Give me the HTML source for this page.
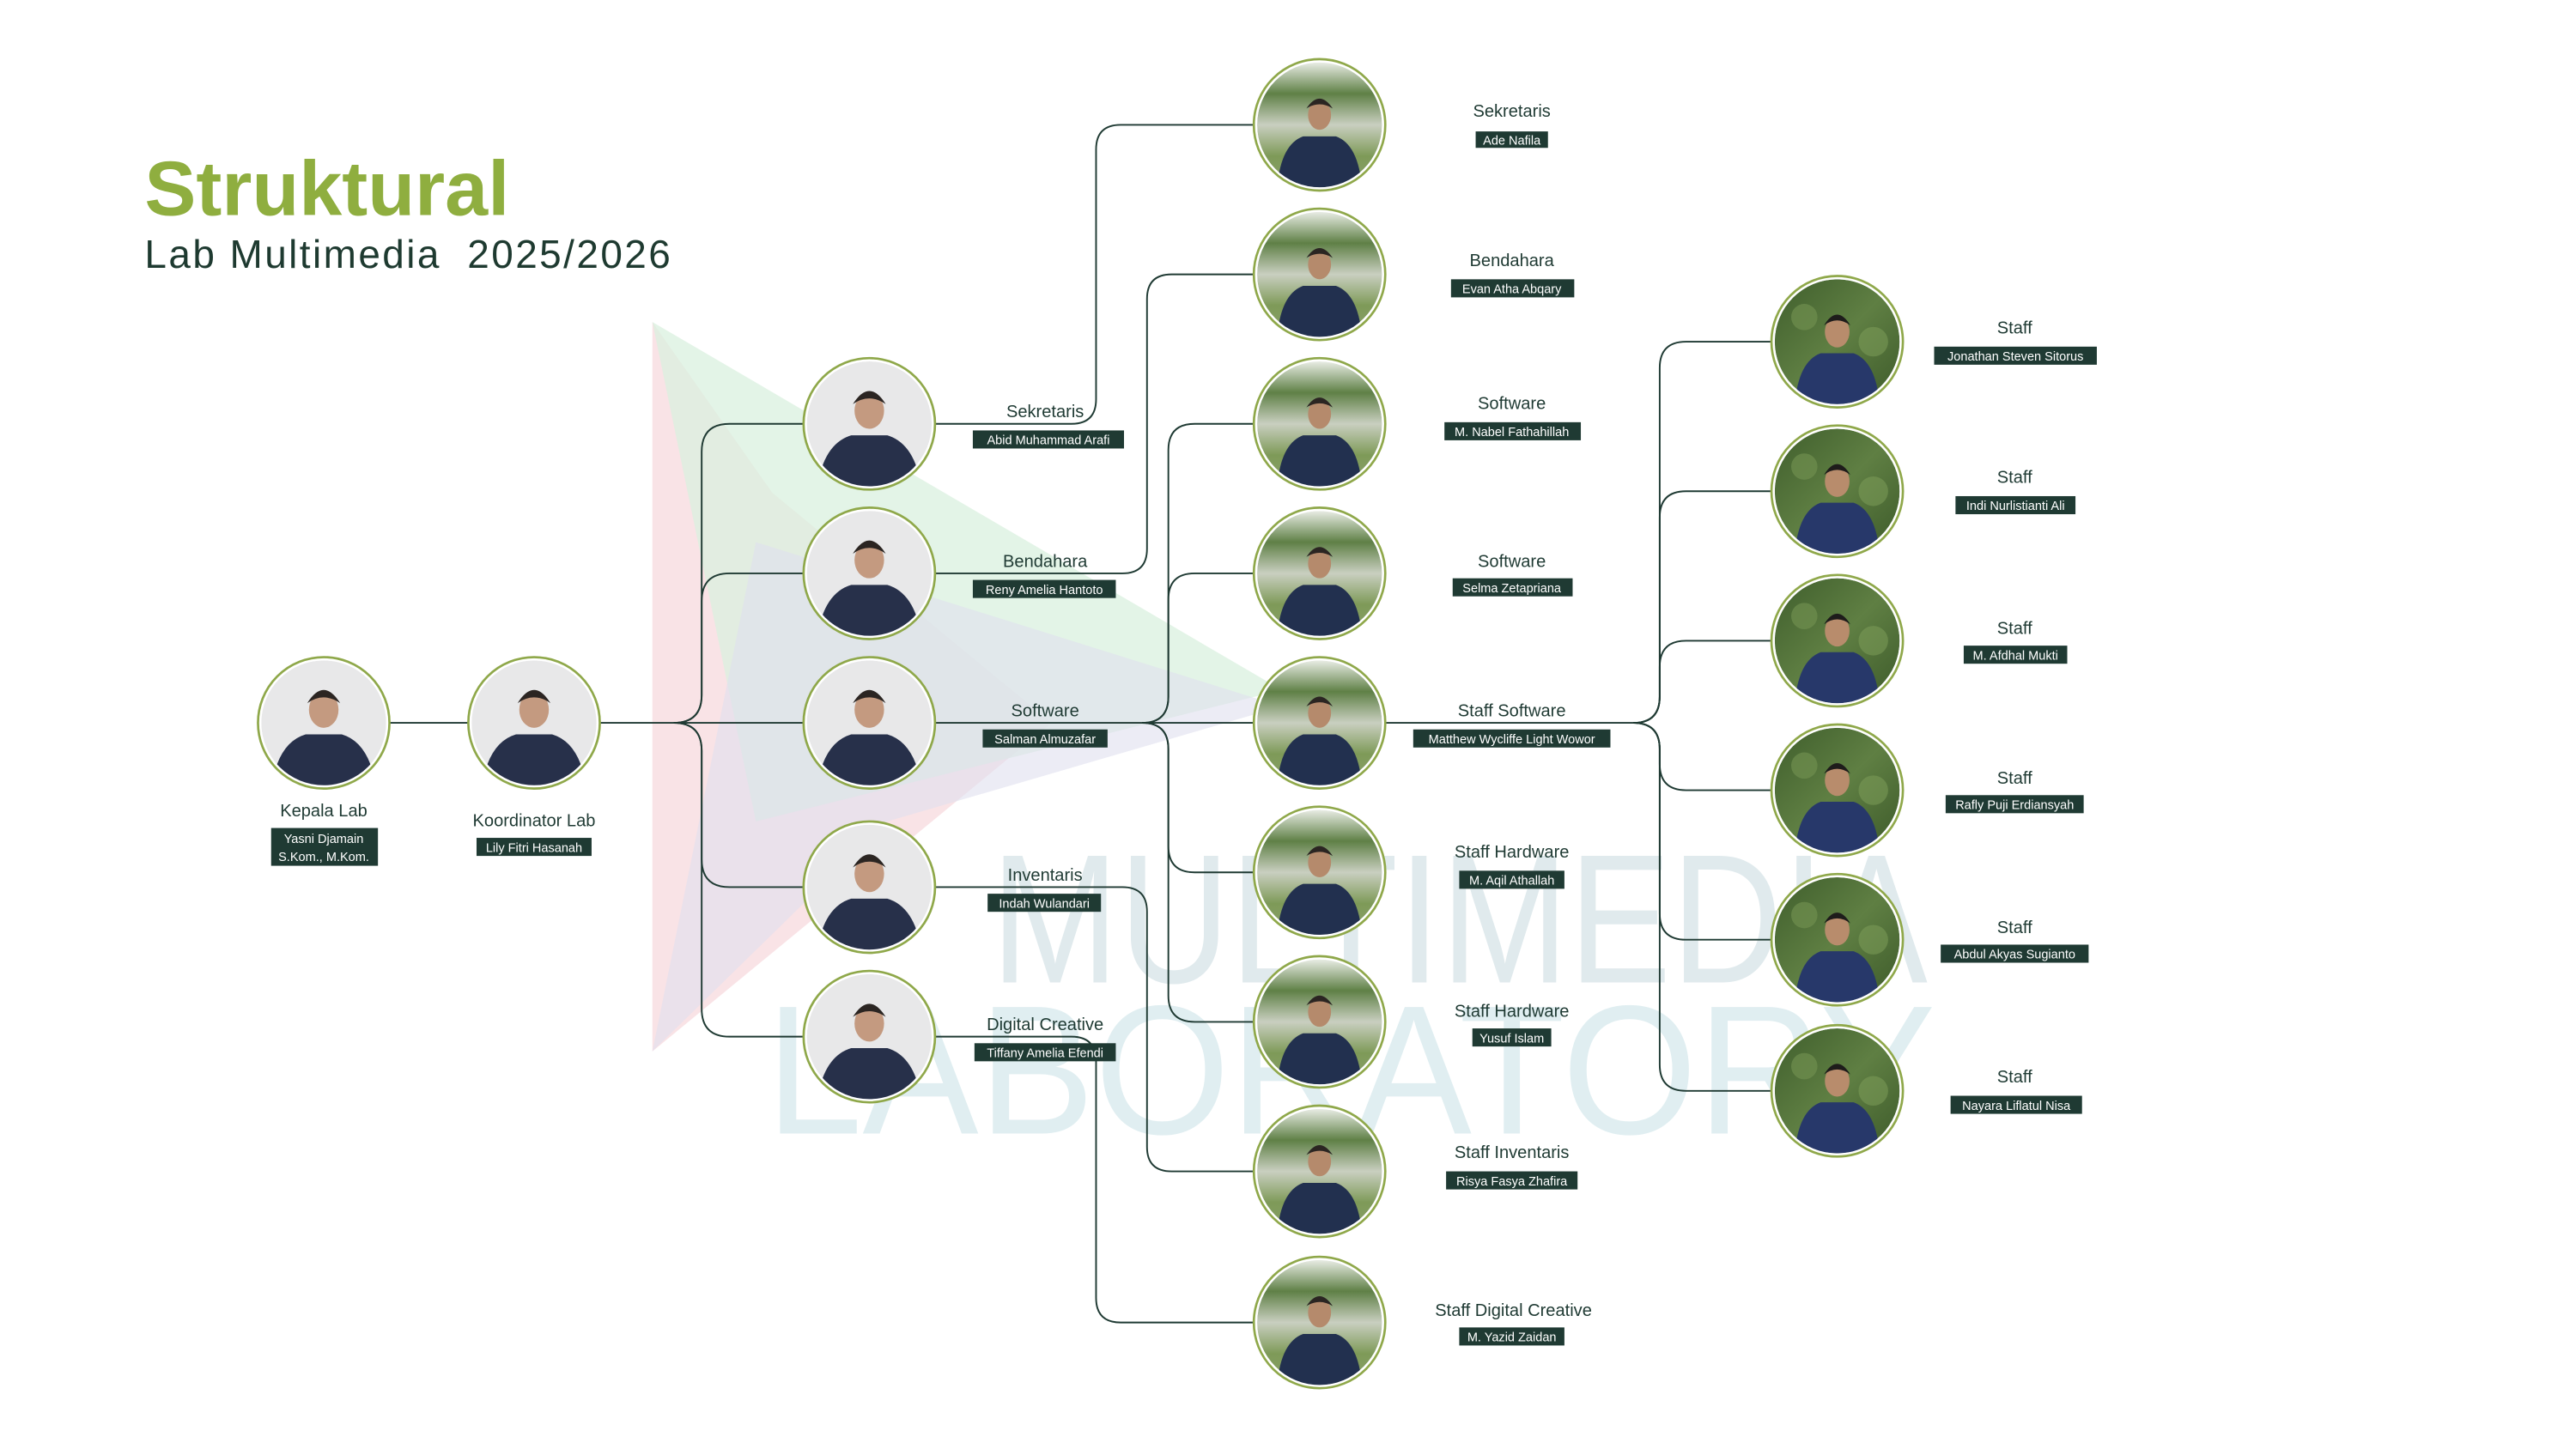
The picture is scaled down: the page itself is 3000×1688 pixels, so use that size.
<!DOCTYPE html>
<html><head><meta charset="utf-8"><style>html,body{margin:0;padding:0;background:#fff}svg{display:block}</style></head>
<body>
<svg width="3000" height="1688" viewBox="0 0 1567.6 882" preserveAspectRatio="none" xmlns="http://www.w3.org/2000/svg" font-family="'Liberation Sans', sans-serif">
<defs>
<clipPath id="cc"><circle r="38"/></clipPath>
<linearGradient id="gout" x1="0" y1="0" x2="0" y2="1"><stop offset="0" stop-color="#e8ece4"/><stop offset="0.25" stop-color="#5f8046"/><stop offset="0.5" stop-color="#c9cfc0"/><stop offset="0.75" stop-color="#7e9a58"/><stop offset="1" stop-color="#8aa06a"/></linearGradient>
<linearGradient id="gleaf" x1="0" y1="0" x2="1" y2="1"><stop offset="0" stop-color="#3f5e2c"/><stop offset="0.5" stop-color="#5f7f43"/><stop offset="1" stop-color="#3d5a2a"/></linearGradient>
<g id="ps"><circle r="40" fill="#fff" stroke="#8fa84a" stroke-width="1.4"/><g clip-path="url(#cc)"><circle r="38" fill="#e8e8e9"/><ellipse cx="0" cy="-8" rx="9" ry="11" fill="#c49a80"/><path d="M-10,-12 Q0,-28 10,-12 Q0,-19 -10,-12Z" fill="#2b2522"/><path d="M-32,40 Q-28,12 -11,7 L11,7 Q28,12 32,40Z" fill="#27304a"/></g></g>
<g id="po"><circle r="40" fill="#fff" stroke="#8fa84a" stroke-width="1.4"/><g clip-path="url(#cc)"><circle r="38" fill="url(#gout)"/><ellipse cx="0" cy="-6" rx="7" ry="9" fill="#b58a6c"/><path d="M-8,-10 Q0,-22 8,-10 Q0,-15 -8,-10Z" fill="#2b2522"/><path d="M-26,40 Q-24,12 -10,7 L10,7 Q24,12 26,40Z" fill="#22304f"/></g></g>
<g id="pl"><circle r="40" fill="#fff" stroke="#8fa84a" stroke-width="1.4"/><g clip-path="url(#cc)"><circle r="38" fill="url(#gleaf)"/><circle cx="-20" cy="-15" r="8" fill="#6f8f4f" opacity=".7"/><circle cx="22" cy="0" r="9" fill="#7a9a56" opacity=".6"/><ellipse cx="0" cy="-6" rx="7.5" ry="9.5" fill="#b88c6c"/><path d="M-8,-10 Q0,-23 8,-10 Q0,-16 -8,-10Z" fill="#1e1c1b"/><path d="M-26,40 Q-24,12 -10,7 L10,7 Q24,12 26,40Z" fill="#27386a"/></g></g>
</defs>

<!-- watermark -->
<polygon points="397,196 397,640 640,440 470,300" fill="#f7d9de" opacity=".75"/>
<polygon points="397,196 780,420 460,500" fill="#d9f0df" opacity=".75"/>
<polygon points="397,640 460,330 780,430 540,500" fill="#dfe0ee" opacity=".6"/>
<text x="603" y="598" font-size="112" fill="#dbe7ea" opacity=".85" textLength="570" lengthAdjust="spacingAndGlyphs">MULTIMEDIA</text>
<text x="466" y="690" font-size="112" fill="#dbecef" opacity=".85" textLength="712" lengthAdjust="spacingAndGlyphs">LABORATORY</text>

<!-- title -->
<text x="88" y="131" font-size="47" font-weight="bold" fill="#8fae3f">Struktural</text>
<text x="88" y="163" font-size="24" fill="#1e3a30" textLength="320" lengthAdjust="spacing">Lab Multimedia&#160;&#160;2025/2026</text>

<!-- connectors -->
<g fill="none" stroke="#1f3a33" stroke-width="1">
<path d="M237,440 H285"/>
<path d="M365,440 H410"/>
<path d="M410,440 Q427,440 427,423 V275 Q427,258 444,258 H489"/>
<path d="M410,440 Q427,440 427,423 V366 Q427,349 444,349 H489"/>
<path d="M410,440 H489"/>
<path d="M410,440 Q427,440 427,457 V523 Q427,540 444,540 H489"/>
<path d="M410,440 Q427,440 427,457 V614 Q427,631 444,631 H489"/>
<path d="M569,258 H652 Q667,258 667,243 V91 Q667,76 682,76 H763"/>
<path d="M569,349 H683 Q698,349 698,334 V182 Q698,167 713,167 H763"/>
<path d="M569,440 H763"/>
<path d="M695,440 Q711,440 711,424 V274 Q711,258 727,258 H763"/>
<path d="M695,440 Q711,440 711,424 V365 Q711,349 727,349 H763"/>
<path d="M695,440 Q711,440 711,456 V515 Q711,531 727,531 H763"/>
<path d="M695,440 Q711,440 711,456 V606 Q711,622 727,622 H763"/>
<path d="M569,540 H683 Q698,540 698,555 V698 Q698,713 713,713 H763"/>
<path d="M569,631 H652 Q667,631 667,646 V790 Q667,805 682,805 H763"/>
<path d="M843,440 H994"/>
<path d="M994,440 Q1010,440 1010,424 V224 Q1010,208 1026,208 H1078"/>
<path d="M994,440 Q1010,440 1010,424 V315 Q1010,299 1026,299 H1078"/>
<path d="M994,440 Q1010,440 1010,424 V406 Q1010,390 1026,390 H1078"/>
<path d="M994,440 Q1010,440 1010,456 V465 Q1010,481 1026,481 H1078"/>
<path d="M994,440 Q1010,440 1010,456 V556 Q1010,572 1026,572 H1078"/>
<path d="M994,440 Q1010,440 1010,456 V648 Q1010,664 1026,664 H1078"/>
</g>

<!-- nodes -->
<use href="#ps" x="197" y="440"/>
<use href="#ps" x="325" y="440"/>
<use href="#ps" x="529" y="258"/>
<use href="#ps" x="529" y="349"/>
<use href="#ps" x="529" y="440"/>
<use href="#ps" x="529" y="540"/>
<use href="#ps" x="529" y="631"/>
<use href="#po" x="803" y="76"/>
<use href="#po" x="803" y="167"/>
<use href="#po" x="803" y="258"/>
<use href="#po" x="803" y="349"/>
<use href="#po" x="803" y="440"/>
<use href="#po" x="803" y="531"/>
<use href="#po" x="803" y="622"/>
<use href="#po" x="803" y="713"/>
<use href="#po" x="803" y="805"/>
<use href="#pl" x="1118" y="208"/>
<use href="#pl" x="1118" y="299"/>
<use href="#pl" x="1118" y="390"/>
<use href="#pl" x="1118" y="481"/>
<use href="#pl" x="1118" y="572"/>
<use href="#pl" x="1118" y="664"/>

<!-- labels -->
<g text-anchor="middle" fill="#1f3a33" font-size="10.5">
<text x="197" y="497">Kepala Lab</text>
<text x="325" y="503">Koordinator Lab</text>
<text x="636" y="254">Sekretaris</text>
<text x="636" y="345">Bendahara</text>
<text x="636" y="436">Software</text>
<text x="636" y="536">Inventaris</text>
<text x="636" y="627">Digital Creative</text>
<text x="920" y="71">Sekretaris</text>
<text x="920" y="162">Bendahara</text>
<text x="920" y="249">Software</text>
<text x="920" y="345">Software</text>
<text x="920" y="436">Staff Software</text>
<text x="920" y="522">Staff Hardware</text>
<text x="920" y="619">Staff Hardware</text>
<text x="920" y="705">Staff Inventaris</text>
<text x="921" y="801">Staff Digital Creative</text>
<text x="1226" y="203">Staff</text>
<text x="1226" y="294">Staff</text>
<text x="1226" y="386">Staff</text>
<text x="1226" y="477">Staff</text>
<text x="1226" y="568">Staff</text>
<text x="1226" y="659">Staff</text>
</g>
<g fill="#1f3a33">
<rect x="165" y="504" width="65" height="23"/>
<rect x="290" y="510" width="70" height="11"/>
<rect x="592" y="262" width="92" height="11"/>
<rect x="592" y="353" width="87" height="11"/>
<rect x="598" y="444" width="76" height="11"/>
<rect x="601" y="544" width="69" height="11"/>
<rect x="593" y="635" width="86" height="11"/>
<rect x="898" y="80" width="44" height="10"/>
<rect x="883" y="170" width="75" height="11"/>
<rect x="879" y="257" width="83" height="11"/>
<rect x="884" y="352" width="73" height="11"/>
<rect x="860" y="444" width="120" height="11"/>
<rect x="888" y="530" width="64" height="11"/>
<rect x="896" y="626" width="48" height="11"/>
<rect x="880" y="713" width="80" height="11"/>
<rect x="888" y="808" width="64" height="11"/>
<rect x="1177" y="211" width="99" height="11"/>
<rect x="1190" y="302" width="73" height="11"/>
<rect x="1195" y="393" width="63" height="11"/>
<rect x="1184" y="484" width="84" height="11"/>
<rect x="1181" y="575" width="90" height="11"/>
<rect x="1187" y="667" width="80" height="11"/>
</g>
<g text-anchor="middle" fill="#fff" font-size="7.6">
<text x="197" y="513">Yasni Djamain</text>
<text x="197" y="524">S.Kom.,  M.Kom.</text>
<text x="325" y="518.5">Lily Fitri Hasanah</text>
<text x="638" y="270.5">Abid Muhammad Arafi</text>
<text x="635.5" y="361.5">Reny Amelia Hantoto</text>
<text x="636" y="452.5">Salman Almuzafar</text>
<text x="635.5" y="552.5">Indah Wulandari</text>
<text x="636" y="643.5">Tiffany Amelia Efendi</text>
<text x="920" y="88">Ade Nafila</text>
<text x="920" y="178.5">Evan Atha Abqary</text>
<text x="920" y="265.5">M. Nabel Fathahillah</text>
<text x="920" y="360.5">Selma Zetapriana</text>
<text x="920" y="452.5">Matthew Wycliffe Light Wowor</text>
<text x="920" y="538.5">M. Aqil Athallah</text>
<text x="920" y="634.5">Yusuf Islam</text>
<text x="920" y="721.5">Risya Fasya Zhafira</text>
<text x="920" y="816.5">M. Yazid Zaidan</text>
<text x="1226.5" y="219.5">Jonathan Steven Sitorus</text>
<text x="1226.5" y="310.5">Indi Nurlistianti Ali</text>
<text x="1226.5" y="401.5">M. Afdhal Mukti</text>
<text x="1226" y="492.5">Rafly Puji Erdiansyah</text>
<text x="1226" y="583.5">Abdul Akyas Sugianto</text>
<text x="1227" y="675.5">Nayara Liflatul Nisa</text>
</g>
</svg>
</body></html>
